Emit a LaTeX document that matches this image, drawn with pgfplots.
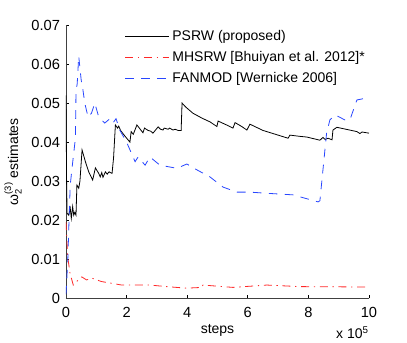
\documentclass[border=0pt]{standalone}
\usepackage{fontspec}
\setmainfont{Liberation Sans}
\usepackage{pgfplots}
\pgfplotsset{compat=1.18}

\definecolor{mred}{RGB}{255,40,40}
\definecolor{mblue}{RGB}{40,70,255}
\tikzset{mhdash/.style={dash pattern=on 6pt off 3.5pt on 1pt off 3.5pt}}

\begin{document}
\begin{tikzpicture}[font=\fontsize{10.5}{12.6}\selectfont]
\path[use as bounding box] (-49.5pt,-32.8pt) rectangle (255.75pt,223.75pt);
\begin{axis}[
  at={(0,0)}, anchor=south west,
  scale only axis,
  width=227.25pt, height=205pt,
  xmin=0, xmax=10, ymin=0, ymax=0.07,
  axis x line*=bottom, axis y line*=left,
  axis line style={line width=0.6pt, black!75},
  tick align=inside,
  major tick length=2.5pt,
  tick style={line width=0.5pt, black},
  xtick={0,2,4,6,8,10},
  ytick={0,0.01,0.02,0.03,0.04,0.05,0.06,0.07},
  scaled y ticks=false,
  /pgf/number format/assume math mode=true,
  tick label style={font=\fontsize{11}{13}\selectfont},
  xticklabel style={yshift=-3.5pt},
  yticklabel style={/pgf/number format/fixed, /pgf/number format/precision=2, xshift=-1pt},
  xlabel={steps},
  xlabel style={at={(axis description cs:0.5,0)}, anchor=center, yshift=-24pt},
  ylabel={\mbox{ω}$_{\mbox{\scriptsize 2}}^{\mbox{\scriptsize (3)}}$ estimates},
  ylabel style={at={(axis description cs:-0.175,0.5)}, anchor=center},
  legend cell align=left,
  legend style={at={(0.18,1.0)}, anchor=north west, draw=none, fill=none,
    row sep=2.4pt, font=\fontsize{10.5}{12.6}\selectfont,
    nodes={inner xsep=2pt}},
  legend image code/.code={\draw[#1] (0pt,0pt) -- (33pt,0pt);},
]
\addplot[draw=black, line width=0.6pt] coordinates {
  (0,0.052) (0.02,0.030) (0.035,0.0218) (0.09,0.0213) (0.14,0.0231)
  (0.175,0.0205) (0.22,0.0235) (0.255,0.0213) (0.29,0.022) (0.33,0.0213)
  (0.36,0.029) (0.42,0.0282) (0.46,0.030) (0.53,0.038) (0.64,0.035)
  (0.75,0.0324) (0.88,0.0303) (0.97,0.0334) (1.08,0.032) (1.13,0.0311)
  (1.18,0.0322) (1.22,0.031) (1.30,0.0324) (1.36,0.0318) (1.42,0.0324)
  (1.52,0.032) (1.57,0.036) (1.63,0.0444) (1.70,0.0436) (1.74,0.0441)
  (1.80,0.0430) (1.95,0.0415) (2.11,0.0400) (2.15,0.0427) (2.22,0.0420)
  (2.34,0.0444) (2.42,0.0436) (2.54,0.0424) (2.59,0.0436) (2.71,0.0430)
  (2.80,0.0428) (2.87,0.0423) (3.04,0.0439) (3.12,0.0433) (3.20,0.0431)
  (3.24,0.0436) (3.37,0.0433) (3.42,0.0436) (3.53,0.0431) (3.60,0.0433)
  (3.70,0.0430) (3.80,0.0430) (3.83,0.0500) (3.95,0.0490) (4.19,0.0474)
  (4.50,0.0461) (4.75,0.0452) (4.98,0.0440) (5.02,0.0454) (5.30,0.0444)
  (5.51,0.0436) (5.58,0.0450) (5.80,0.0440) (5.97,0.0431) (6.07,0.0446)
  (6.50,0.0430) (7.00,0.0418) (7.33,0.0410) (7.39,0.0418) (7.70,0.0415)
  (7.95,0.0413) (8.38,0.0405) (8.48,0.0412) (8.55,0.0407) (8.65,0.0410)
  (8.78,0.0406) (8.81,0.0431) (8.94,0.0438) (9.30,0.0432) (9.60,0.0427)
  (9.70,0.0422) (9.77,0.0426) (10,0.0423)
};
\addlegendentry{PSRW (proposed)}
\addplot[draw=mred, mhdash, line width=0.6pt,
  legend image code/.code={\draw[color=mred, mhdash, line width=0.7pt] (0pt,0pt) -- (33pt,0pt);}] coordinates {
  (0,0.0195) (0.056,0.0107) (0.13,0.0065) (0.24,0.0034) (0.35,0.0043)
  (0.52,0.0055) (0.68,0.0047) (0.84,0.0052) (1.17,0.0043) (1.84,0.0034)
  (2.77,0.0034) (3.32,0.0030) (3.98,0.0026) (4.48,0.0028) (4.52,0.0034)
  (5.51,0.0028) (6.63,0.0034) (7.72,0.0030) (10,0.0029)
};
\addlegendentry{MHSRW [Bhuiyan et al. 2012]*}
\addplot[draw=mblue, line width=0.6pt, dash pattern=on 6.5pt off 5.5pt] coordinates {
  (0,0.001) (0.06,0.010) (0.10,0.020) (0.14,0.029) (0.20,0.0334)
  (0.31,0.041) (0.33,0.053) (0.37,0.055) (0.42,0.062) (0.46,0.059)
  (0.50,0.056) (0.56,0.0533) (0.62,0.050) (0.68,0.048) (0.73,0.0464)
  (0.84,0.0474) (0.95,0.050) (1.06,0.047) (1.17,0.0457) (1.28,0.0449)
  (1.45,0.046) (1.55,0.0449) (1.65,0.046) (1.78,0.043) (2.00,0.040)
  (2.28,0.035) (2.38,0.0362) (2.61,0.0341) (2.77,0.0362) (3.10,0.0341)
  (3.66,0.0333) (3.99,0.0344) (4.32,0.0329) (4.75,0.0311) (5.18,0.0285)
  (5.64,0.0272) (6.07,0.0272) (6.63,0.0269) (7.49,0.0265) (8.32,0.0247)
  (8.38,0.0250) (8.60,0.0423) (8.71,0.0457) (8.88,0.0470) (9.20,0.0457)
  (9.37,0.0457) (9.60,0.0508) (9.92,0.0513) (10,0.0512)
};
\addlegendentry{FANMOD [Wernicke 2006]}
\end{axis}
\node[anchor=north east, inner sep=0pt] at (227.25pt,-21pt) {x 10\textsuperscript{5}};
\end{tikzpicture}
\end{document}
